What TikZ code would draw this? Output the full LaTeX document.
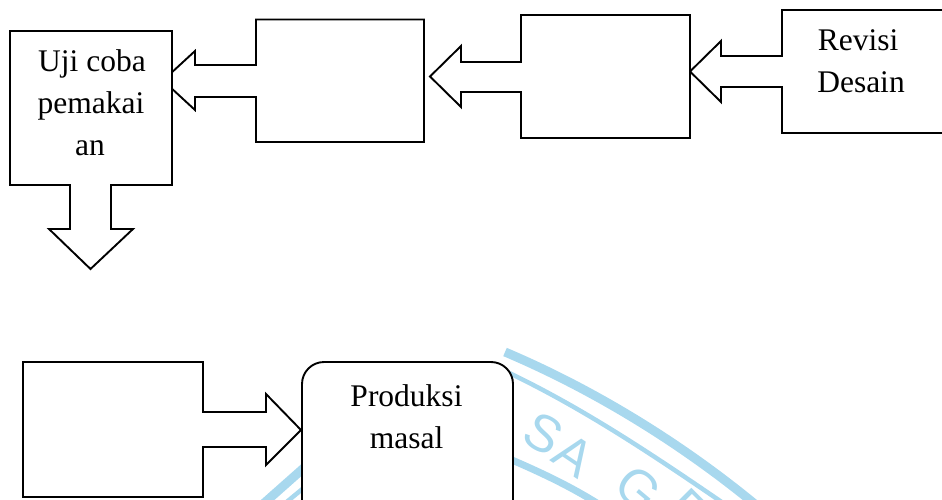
\documentclass[tikz,border=0pt]{standalone}
\usepackage{fontspec}
\setmainfont{Liberation Serif}
\newfontfamily\wmfont{Liberation Sans}
\definecolor{wmblue}{RGB}{168,216,238}
\begin{document}
\begin{tikzpicture}[x=1pt,y=-1pt,
  shapeline/.style={draw=black,line width=1.9pt,fill=white,line join=miter},
  lbl/.style={anchor=base,inner sep=0pt,font=\fontsize{31.5}{41.5}\selectfont},
  wmline/.style={draw=wmblue,line cap=butt},
  wmletter/.style={text=wmblue,inner sep=0pt,font=\wmfont\fontsize{52}{52}\selectfont}]
\useasboundingbox (0,0) rectangle (942,500);
\begin{scope}
\clip (0,0) rectangle (942,500);
% watermark fragments
\draw[wmline,line width=9pt] (505,352) .. controls (590,388) and (677,440) .. (756,505);
\draw[wmline,line width=4.5pt] (505,371) .. controls (583,408) and (653,455) .. (726,505);
\draw[wmline,line width=7pt] (505,457) .. controls (540,472) and (570,486) .. (600,505);
\draw[wmline,line width=9pt] (262,505) -- (306,466);
\draw[wmline,line width=4.5pt] (283,505) -- (306,486);
\node[wmletter,rotate=-30] (wmS) at (543,434) {S};
\node[wmletter,rotate=-34] (wmA) at (574,455) {A};
\node[wmletter,rotate=-40] (wmG) at (638,489) {G};
\node[wmletter,rotate=-45] (wmE) at (688,510) {E};
% top row callouts
\draw[shapeline] (782,10) -- (960,10) -- (960,133) -- (782,133) -- (782,87) -- (721,87) -- (721,102) -- (690,71.5) -- (721,41) -- (721,56) -- (782,56) -- cycle;
\draw[shapeline] (521,15) -- (690,15) -- (690,138) -- (521,138) -- (521,92) -- (461,92) -- (461,107) -- (430,76.5) -- (461,46) -- (461,62) -- (521,62) -- cycle;
\draw[shapeline] (256,19.5) -- (424,19.5) -- (424,142) -- (256,142) -- (256,97) -- (195,97) -- (195,110) -- (163,80.5) -- (195,51) -- (195,65) -- (256,65) -- cycle;
\draw[shapeline] (10,31) -- (172,31) -- (172,185) -- (111,185) -- (111,229) -- (133,229) -- (90.5,269) -- (49,229) -- (70,229) -- (70,185) -- (10,185) -- cycle;
% bottom row
\draw[shapeline] (23,362) -- (203,362) -- (203,412) -- (266,412) -- (266,394) -- (301,430) -- (266,465) -- (266,447) -- (203,447) -- (203,497) -- (23,497) -- cycle;
\draw[shapeline,rounded corners=22pt] (302,560) -- (302,362) -- (513,362) -- (513,560);
\end{scope}
% texts
\node[lbl] (uji1) at (92,72) {Uji coba};
\node[lbl] (uji2) at (91,113.5) {pemakai};
\node[lbl] (uji3) at (90,155) {an};
\node[lbl] (rev1) at (858,51) {Revisi};
\node[lbl] (rev2) at (861,92.5) {Desain};
\node[lbl] (prod1) at (406.5,406.5) {Produksi};
\node[lbl] (prod2) at (406.5,448) {masal};
\end{tikzpicture}
\end{document}
